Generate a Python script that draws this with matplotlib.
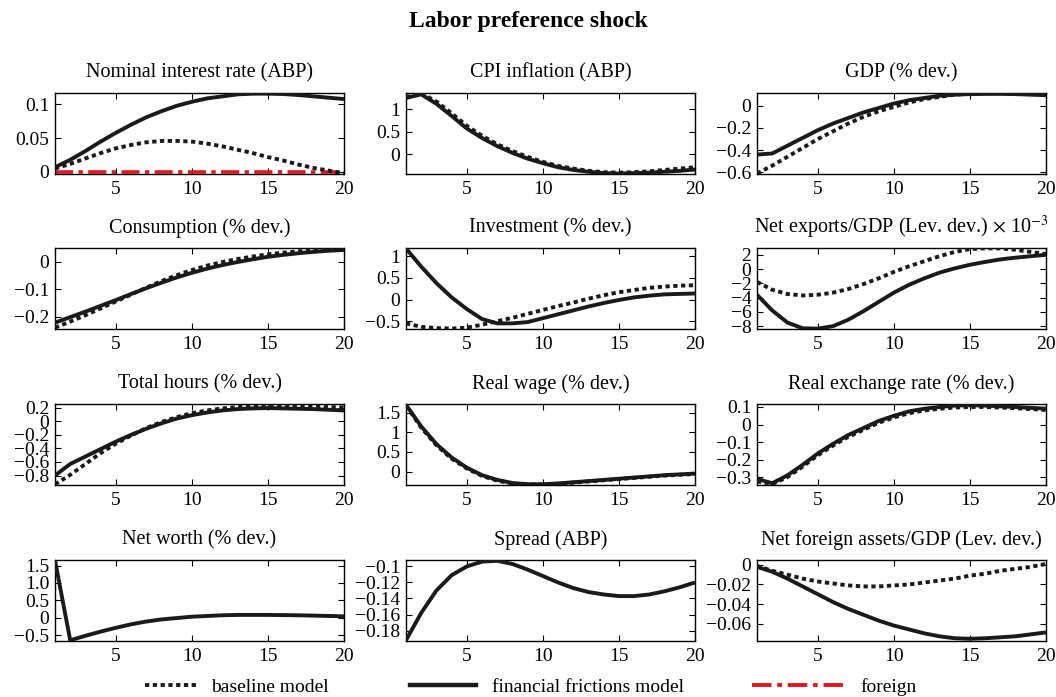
import matplotlib
matplotlib.use("Agg")
import matplotlib.pyplot as plt
from matplotlib.lines import Line2D
import numpy as np

plt.rcParams['font.family'] = ['Liberation Serif', 'DejaVu Serif']
plt.rcParams['mathtext.fontset'] = 'stix'
plt.rcParams['axes.unicode_minus'] = True

periods = list(range(1, 21))

titles = [
    "Nominal interest rate (ABP)", "CPI inflation (ABP)", "GDP (% dev.)",
    "Consumption (% dev.)", "Investment (% dev.)", r"Net exports/GDP (Lev. dev.) $\times$ 10$^{-3}$",
    "Total hours (% dev.)", "Real wage (% dev.)", "Real exchange rate (% dev.)",
    "Net worth (% dev.)", "Spread (ABP)", "Net foreign assets/GDP (Lev. dev.)",
]

# baseline model (dotted); None where not shown
baseline_rate = [0.005, 0.012, 0.020, 0.028, 0.035, 0.040, 0.044, 0.046, 0.046, 0.045,
                 0.042, 0.038, 0.033, 0.028, 0.022, 0.017, 0.011, 0.006, 0.002, -0.002]
baseline_cpi = [1.27, 1.35, 1.17, 0.91, 0.63, 0.41, 0.22, 0.07, -0.06, -0.17,
                -0.26, -0.32, -0.37, -0.40, -0.41, -0.40, -0.38, -0.35, -0.32, -0.29]
baseline_gdp = [-0.61, -0.54, -0.46, -0.38, -0.30, -0.23, -0.16, -0.10, -0.05, -0.01,
                0.03, 0.06, 0.08, 0.10, 0.11, 0.113, 0.115, 0.113, 0.11, 0.105]
baseline_cons = [-0.240, -0.218, -0.195, -0.170, -0.145, -0.120, -0.095, -0.071, -0.050, -0.031,
                 -0.015, -0.002, 0.009, 0.018, 0.026, 0.032, 0.037, 0.041, 0.044, 0.046]
baseline_inv = [-0.55, -0.63, -0.66, -0.67, -0.65, -0.58, -0.50, -0.42, -0.33, -0.24,
                -0.15, -0.07, 0.02, 0.10, 0.17, 0.22, 0.27, 0.30, 0.32, 0.33]
baseline_nx = [-1.8, -2.9, -3.5, -3.7, -3.6, -3.3, -2.8, -2.1, -1.3, -0.4,
               0.4, 1.1, 1.8, 2.4, 2.8, 2.9, 2.9, 2.7, 2.4, 2.1]
baseline_hours = [-0.93, -0.79, -0.63, -0.47, -0.33, -0.21, -0.10, -0.01, 0.06, 0.12,
                  0.16, 0.19, 0.21, 0.22, 0.225, 0.225, 0.22, 0.215, 0.21, 0.205]
baseline_wage = [1.68, 1.12, 0.67, 0.33, 0.08, -0.11, -0.23, -0.30, -0.33, -0.33,
                 -0.31, -0.28, -0.25, -0.22, -0.19, -0.16, -0.13, -0.10, -0.08, -0.06]
baseline_rer = [-0.325, -0.34, -0.30, -0.24, -0.175, -0.12, -0.07, -0.03, 0.01, 0.04,
                0.065, 0.08, 0.09, 0.097, 0.10, 0.10, 0.097, 0.093, 0.088, 0.083]
baseline_nfa = [-0.001, -0.006, -0.010, -0.014, -0.017, -0.019, -0.021, -0.022, -0.022, -0.021,
                -0.020, -0.018, -0.016, -0.014, -0.011, -0.009, -0.006, -0.004, -0.002, 0.001]

# financial frictions model (solid)
ff_rate = [0.007, 0.018, 0.031, 0.045, 0.058, 0.070, 0.081, 0.090, 0.098, 0.104,
           0.109, 0.112, 0.115, 0.116, 0.116, 0.1155, 0.114, 0.112, 0.110, 0.108]
ff_cpi = [1.25, 1.33, 1.12, 0.85, 0.57, 0.36, 0.18, 0.03, -0.10, -0.20,
          -0.29, -0.35, -0.39, -0.42, -0.43, -0.42, -0.41, -0.39, -0.37, -0.34]
ff_gdp = [-0.44, -0.43, -0.36, -0.29, -0.22, -0.16, -0.11, -0.06, -0.02, 0.02,
          0.05, 0.07, 0.09, 0.10, 0.105, 0.107, 0.107, 0.105, 0.10, 0.095]
ff_cons = [-0.222, -0.202, -0.182, -0.161, -0.140, -0.118, -0.097, -0.077, -0.058, -0.041,
           -0.026, -0.013, -0.002, 0.008, 0.017, 0.024, 0.030, 0.035, 0.039, 0.042]
ff_inv = [1.18, 0.76, 0.38, 0.05, -0.22, -0.45, -0.55, -0.55, -0.52, -0.43,
          -0.34, -0.25, -0.16, -0.08, -0.01, 0.05, 0.09, 0.12, 0.13, 0.14]
ff_nx = [-3.6, -5.8, -7.5, -8.3, -8.35, -8.0, -7.1, -5.9, -4.6, -3.3,
         -2.2, -1.3, -0.5, 0.1, 0.6, 1.0, 1.35, 1.6, 1.8, 2.0]
ff_hours = [-0.80, -0.63, -0.52, -0.41, -0.30, -0.20, -0.11, -0.03, 0.04, 0.09,
            0.13, 0.16, 0.18, 0.19, 0.195, 0.19, 0.185, 0.18, 0.17, 0.16]
ff_wage = [1.70, 1.15, 0.70, 0.36, 0.10, -0.09, -0.21, -0.29, -0.32, -0.32,
           -0.30, -0.27, -0.24, -0.21, -0.18, -0.15, -0.12, -0.09, -0.07, -0.05]
ff_rer = [-0.31, -0.335, -0.29, -0.23, -0.165, -0.11, -0.06, -0.02, 0.02, 0.05,
          0.075, 0.09, 0.10, 0.108, 0.11, 0.108, 0.104, 0.10, 0.095, 0.09]
ff_networth = [1.65, -0.65, -0.52, -0.40, -0.29, -0.19, -0.11, -0.05, -0.01, 0.03,
               0.05, 0.07, 0.08, 0.08, 0.08, 0.075, 0.07, 0.06, 0.05, 0.04]
ff_spread = [-0.192, -0.158, -0.130, -0.111, -0.100, -0.094, -0.093, -0.097, -0.104, -0.112,
             -0.120, -0.127, -0.132, -0.135, -0.137, -0.137, -0.135, -0.131, -0.126, -0.120]
ff_nfa = [-0.002, -0.007, -0.014, -0.022, -0.030, -0.038, -0.045, -0.051, -0.057, -0.062,
          -0.066, -0.070, -0.073, -0.075, -0.0755, -0.075, -0.074, -0.073, -0.071, -0.069]

# foreign (red dash-dot), only in the first panel
foreign_rate = [0.0] * 20

baseline = [baseline_rate, baseline_cpi, baseline_gdp, baseline_cons, baseline_inv, baseline_nx,
            baseline_hours, baseline_wage, baseline_rer, None, None, baseline_nfa]
ff = [ff_rate, ff_cpi, ff_gdp, ff_cons, ff_inv, ff_nx,
      ff_hours, ff_wage, ff_rer, ff_networth, ff_spread, ff_nfa]

ylims = [(-0.003, 0.117), (-0.44, 1.36), (-0.615, 0.115), (-0.245, 0.049), (-0.68, 1.19),
         (-8.4, 2.95), (-0.94, 0.255), (-0.34, 1.72), (-0.345, 0.117), (-0.67, 1.66),
         (-0.193, -0.092), (-0.0778, 0.005)]

yticks = [[0, 0.05, 0.1], [0, 0.5, 1], [-0.6, -0.4, -0.2, 0], [-0.2, -0.1, 0], [-0.5, 0, 0.5, 1],
          [-8, -6, -4, -2, 0, 2], [-0.8, -0.6, -0.4, -0.2, 0, 0.2], [0, 0.5, 1, 1.5],
          [-0.3, -0.2, -0.1, 0, 0.1], [-0.5, 0, 0.5, 1.0, 1.5],
          [-0.18, -0.16, -0.14, -0.12, -0.1], [-0.06, -0.04, -0.02, 0]]
ytick_labels = [["0", "0.05", "0.1"], ["0", "0.5", "1"], ["−0.6", "−0.4", "−0.2", "0"],
                ["−0.2", "−0.1", "0"], ["−0.5", "0", "0.5", "1"],
                ["−8", "−6", "−4", "−2", "0", "2"],
                ["−0.8", "−0.6", "−0.4", "−0.2", "0", "0.2"], ["0", "0.5", "1", "1.5"],
                ["−0.3", "−0.2", "−0.1", "0", "0.1"], ["−0.5", "0", "0.5", "1.0", "1.5"],
                ["−0.18", "−0.16", "−0.14", "−0.12", "−0.1"], ["−0.06", "−0.04", "−0.02", "0"]]
xticks = [5, 10, 15, 20]

W, H = 1056, 697
fig = plt.figure(figsize=(W / 100, H / 100), dpi=100)

lefts = [55, 406, 757]
tops = [93, 248, 404, 560]
aw, ah = 289, 81

FS = 14
dot_style = (0, (1.1, 0.9))
red = '#e8141c'

for i in range(12):
    r, c = divmod(i, 3)
    ax = fig.add_axes([lefts[c] / W, 1 - (tops[r] + ah) / H, aw / W, ah / H])
    if i == 0:
        ax.plot(periods, foreign_rate, color=red, lw=2.6, linestyle=(0, (5, 1.5, 1.2, 1.5)), zorder=2)
    if baseline[i] is not None:
        ax.plot(periods, baseline[i], color='#1a1a1a', lw=2.8, linestyle=dot_style, zorder=3)
    ax.plot(periods, ff[i], color='#1a1a1a', lw=2.8, solid_capstyle='butt', zorder=4)
    ax.set_xlim(1, 20)
    ax.set_ylim(*ylims[i])
    ax.set_xticks(xticks)
    ax.set_xticklabels([str(t) for t in xticks])
    ax.set_yticks(yticks[i])
    ax.set_yticklabels(ytick_labels[i])
    ax.tick_params(direction='in', top=True, right=True, length=4, width=0.8,
                   labelsize=FS, pad=5)
    ax.tick_params(axis='y', pad=4)
    for s in ax.spines.values():
        s.set_linewidth(1.0)
    ax.set_title(titles[i], fontsize=14.5, pad=11)

fig.suptitle("Labor preference shock", fontsize=17, fontweight='bold', y=1 - 22 / H, va='center')

h_base = Line2D([], [], color='#1a1a1a', lw=2.8, linestyle=dot_style)
h_ff = Line2D([], [], color='#1a1a1a', lw=3.2)
h_for = Line2D([], [], color=red, lw=2.8, linestyle=(0, (5, 1.5, 1.2, 1.5)))
legend_specs = [(h_base, "baseline model", 145, 2.6), (h_ff, "financial frictions model", 410, 3.4),
                (h_for, "foreign", 752, 4.8)]
for h, lab, x0, hl in legend_specs:
    fig.legend(handles=[h], labels=[lab], loc='center left', bbox_to_anchor=(x0 / W, 1 - 687 / H),
               frameon=False, fontsize=FS, handlelength=hl, handletextpad=0.8, borderpad=0,
               borderaxespad=0)

fig.savefig("out.png", dpi=100)
